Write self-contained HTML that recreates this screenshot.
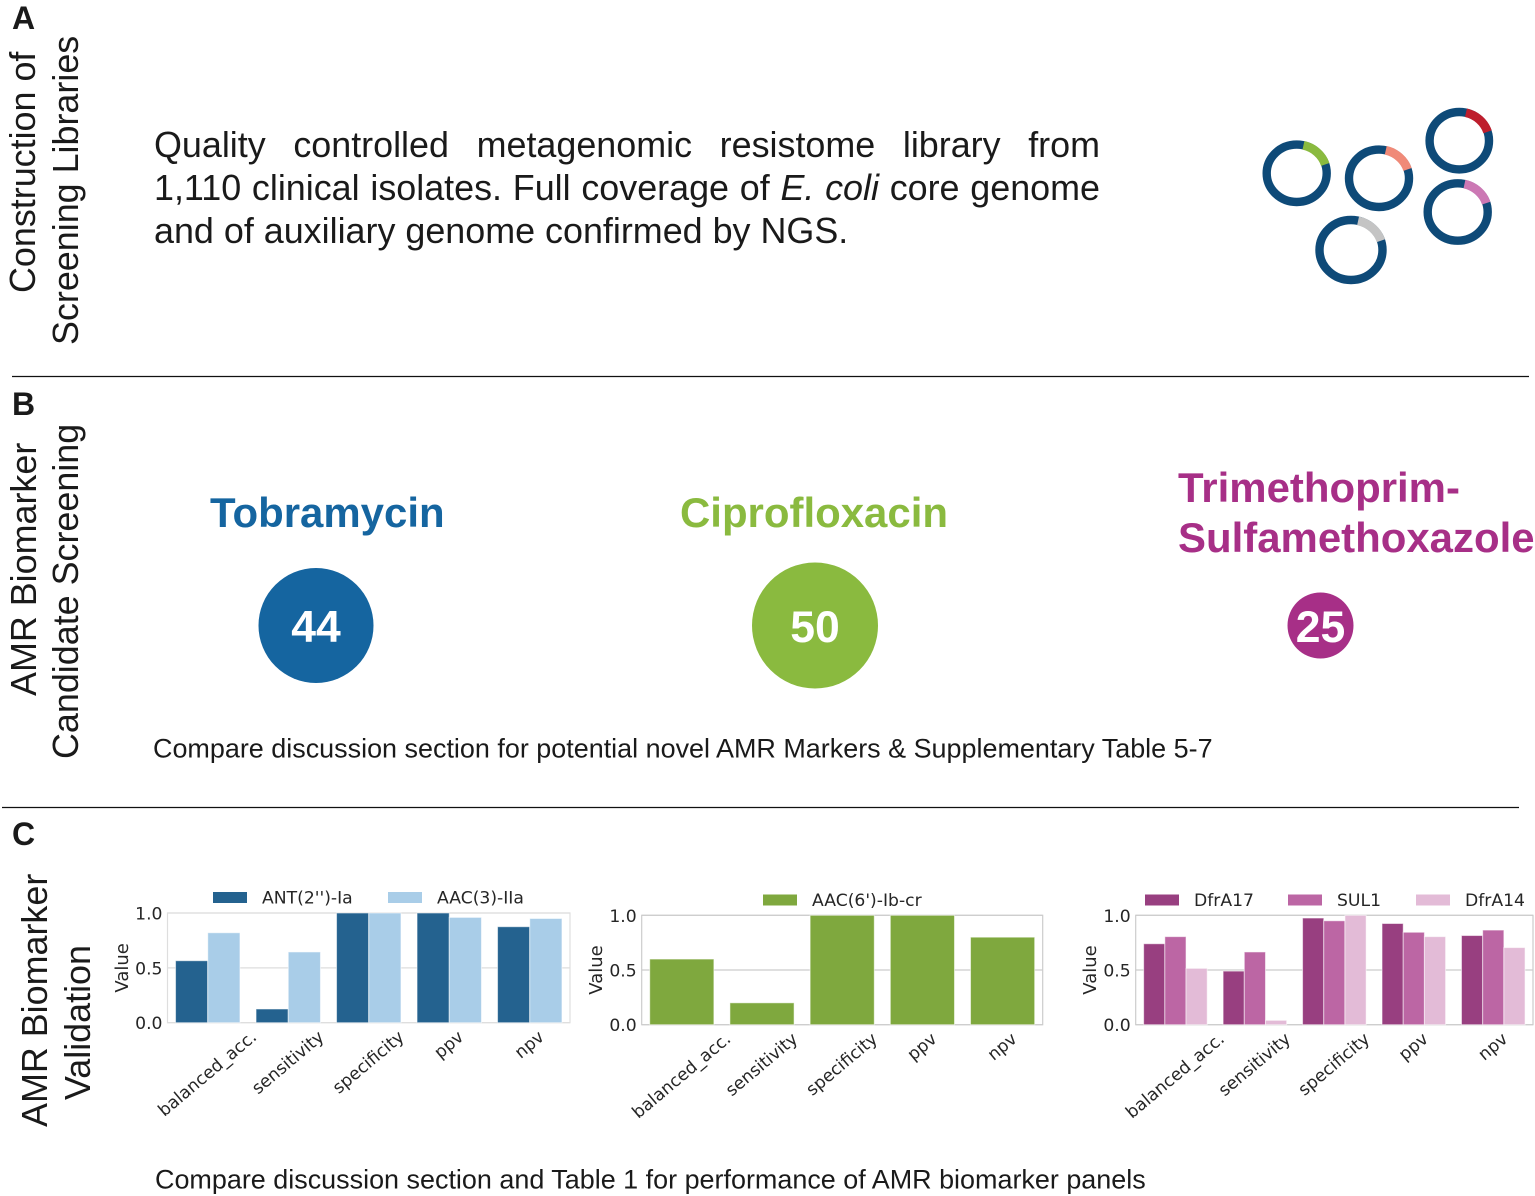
<!DOCTYPE html>
<html lang="en">
<head>
<meta charset="utf-8">
<title>AMR biomarker workflow</title>
<style>
html,body{margin:0;padding:0;background:#fff;}
body{position:relative;width:1535px;height:1196px;overflow:hidden;font-family:"Liberation Sans",Arial,sans-serif;color:#1a1a1a;}
svg{position:absolute;left:0;top:0;}
.line{position:absolute;left:154px;width:946px;font-size:35.9px;line-height:43px;white-space:nowrap;}
.just{white-space:normal;text-align:justify;text-align-last:justify;}
.sans{font-family:"Liberation Sans",Arial,sans-serif;}
.dv{font-family:"DejaVu Sans",sans-serif;fill:#262626;}
</style>
</head>
<body>
<svg id="fig" width="1535" height="1196" viewBox="0 0 1535 1196">
  <line x1="12" y1="376.5" x2="1529" y2="376.5" stroke="#111" stroke-width="1.2"/>
  <line x1="2" y1="807.5" x2="1519" y2="807.5" stroke="#111" stroke-width="1.2"/>

  <g class="sans" font-weight="700" font-size="32" fill="#1a1a1a">
    <text x="12" y="29">A</text>
    <text x="12" y="415">B</text>
    <text x="12" y="845">C</text>
  </g>

  <g class="sans" font-size="35.9" fill="#1a1a1a">
    <text transform="translate(35,293) rotate(-90)">Construction of</text>
    <text transform="translate(78,345) rotate(-90)">Screening Libraries</text>
    <text transform="translate(36,696) rotate(-90)">AMR Biomarker</text>
    <text transform="translate(78,759) rotate(-90)">Candidate Screening</text>
    <text transform="translate(47,1127) rotate(-90)">AMR Biomarker</text>
    <text transform="translate(90,1100) rotate(-90)">Validation</text>
  </g>

  <g class="sans" font-weight="700" font-size="41.95">
    <text x="210" y="527" fill="#1565a0">Tobramycin</text>
    <text x="680" y="527" fill="#8aba3f">Ciprofloxacin</text>
    <text x="1178" y="502" fill="#a72f87">Trimethoprim-</text>
    <text x="1178" y="552" fill="#a72f87">Sulfamethoxazole</text>
  </g>

  <circle cx="316" cy="625.5" r="57.5" fill="#1565a0"/>
  <circle cx="815" cy="625.5" r="63" fill="#8aba3f"/>
  <circle cx="1320.5" cy="625.5" r="33" fill="#a72f87"/>
  <g class="sans" font-weight="700" font-size="44.5" fill="#fff" text-anchor="middle">
    <text x="316" y="642">44</text>
    <text x="815" y="642">50</text>
    <text x="1320.5" y="642">25</text>
  </g>

  <text class="sans" x="153" y="757.5" font-size="26.95" fill="#1a1a1a">Compare discussion section for potential novel AMR Markers &amp; Supplementary Table 5-7</text>
  <text class="sans" x="155" y="1188.5" font-size="26.95" fill="#1a1a1a">Compare discussion section and Table 1 for performance of AMR biomarker panels</text>

  <g id="rings"></g>
  <g id="charts"></g>
</svg>

<div class="line just" style="top:124px">Quality controlled metagenomic resistome library from</div>
<div class="line just" style="top:167px">1,110 clinical isolates. Full coverage of <i>E. coli</i> core genome</div>
<div class="line" style="top:210px">and of auxiliary genome confirmed by NGS.</div>

<script>
var metricLabels = ["balanced_acc.", "sensitivity", "specificity", "ppv", "npv"];
var valueTicks = [0, 0.5, 1];
var valueTickLabels = ["0.0", "0.5", "1.0"];

var ant2Values = [0.565, 0.125, 1, 1, 0.875];
var aac3Values = [0.82, 0.645, 1, 0.96, 0.95];
var aac6Values = [0.6, 0.2, 1, 1, 0.8];
var dfrA17Values = [0.74, 0.49, 0.975, 0.925, 0.815];
var sul1Values = [0.805, 0.665, 0.95, 0.845, 0.865];
var dfrA14Values = [0.515, 0.04, 1, 0.805, 0.705];

var NS = "http://www.w3.org/2000/svg";

function make(parent, tag, attrs) {
  var el = document.createElementNS(NS, tag);
  for (var k in attrs) { el.setAttribute(k, attrs[k]); }
  parent.appendChild(el);
  return el;
}

function drawChart(cfg) {
  var g = make(document.getElementById("charts"), "g", {});
  
  

  var xStep = (cfg.right - cfg.left) / metricLabels.length;
  function xBand(i) { return cfg.left + xStep * i; }
  function yScale(v) { return cfg.bottom - (cfg.bottom - cfg.top) * v; }

  valueTicks.forEach(function (t, i) {
    var grid = make(g, "line", { x1: cfg.left, x2: cfg.right, y1: yScale(t), y2: yScale(t), stroke: cfg.axisColor, "stroke-width": 1.2 });
    
    
    var tick = make(g, "text", { x: cfg.left - 5, y: yScale(t) + 6.5, "text-anchor": "end", "font-size": 17.2, class: "dv" });
    tick.textContent = valueTickLabels[i];
    
    
  });

  var frame = make(g, "rect", { x: cfg.left, y: cfg.top, width: cfg.right - cfg.left, height: cfg.bottom - cfg.top, fill: "none", stroke: cfg.axisColor, "stroke-width": 1.2 });
  
  

  var barWidth = xStep * 0.8 / cfg.series.length;
  cfg.series.forEach(function (s, si) {
    s.values.forEach(function (v, i) {
      var b = make(g, "rect", {
        x: xBand(i) + xStep * 0.1 + barWidth * si,
        y: yScale(v),
        width: barWidth,
        height: yScale(0) - yScale(v),
        fill: s.color,
        stroke: "#fff",
        "stroke-opacity": 0.55,
        "stroke-width": 1
      });
      
      
    });
    var sw = make(g, "rect", { x: s.legendX, y: cfg.legendY - 5.5, width: 34, height: 11, fill: s.color });
    
    
    var lt = make(g, "text", { x: s.legendX + 49, y: cfg.legendY + 6, "font-size": 17.2, class: "dv" });
    lt.textContent = s.name;
    
    
  });

  var yt = make(g, "text", { transform: "translate(" + (cfg.left - 39.5) + "," + ((cfg.top + cfg.bottom) / 2) + ") rotate(-90)", "text-anchor": "middle", "font-size": 18, class: "dv" });
  yt.textContent = "Value";
  
  

  var angle = 40, rad = angle * Math.PI / 180, fs = 17.2;
  metricLabels.forEach(function (label, i) {
    var cx = xBand(i) + xStep / 2;
    var t = make(g, "text", { "text-anchor": "middle", "font-size": fs, "dominant-baseline": "central", class: "dv" });
    t.textContent = label;
    
    
    var w = t.getComputedTextLength();
    var cy = cfg.bottom + 4.5 + (w * Math.sin(rad) + fs * 1.16 * Math.cos(rad)) / 2;
    t.setAttribute("transform", "translate(" + cx + "," + cy + ") rotate(-" + angle + ")");
  });
}

drawChart({
  name: "tobramycin-chart", left: 167.5, right: 570, top: 913, bottom: 1022.7, axisColor: "#dedede", legendY: 897.5,
  series: [
    { name: "ANT(2'')-Ia", values: ant2Values, color: "#24628f", legendX: 213 },
    { name: "AAC(3)-IIa", values: aac3Values, color: "#a9cde8", legendX: 388 }
  ]
});
drawChart({
  name: "ciprofloxacin-chart", left: 641.7, right: 1042.7, top: 915.3, bottom: 1024.7, axisColor: "#cccccc", legendY: 900,
  series: [
    { name: "AAC(6')-Ib-cr", values: aac6Values, color: "#7fa83e", legendX: 763 }
  ]
});
drawChart({
  name: "trimethoprim-chart", left: 1135.7, right: 1533, top: 915.3, bottom: 1024.7, axisColor: "#cccccc", legendY: 900,
  series: [
    { name: "DfrA17", values: dfrA17Values, color: "#983f80", legendX: 1145 },
    { name: "SUL1", values: sul1Values, color: "#bc66a4", legendX: 1288 },
    { name: "DfrA14", values: dfrA14Values, color: "#e3bbd7", legendX: 1416 }
  ]
});

function ringPoint(cx, cy, rx, ry, deg) {
  var a = deg * Math.PI / 180;
  return (cx + rx * Math.sin(a)) + " " + (cy - ry * Math.cos(a));
}

function drawRing(name, cx, cy, rx, ry, color) {
  var g = make(document.getElementById("rings"), "g", {});
  
  
  make(g, "ellipse", { cx: cx, cy: cy, rx: rx, ry: ry, fill: "none", stroke: "#0e4a78", "stroke-width": 8.4 });
  make(g, "path", {
    d: "M" + ringPoint(cx, cy, rx, ry, 13) + " A" + rx + " " + ry + " 0 0 1 " + ringPoint(cx, cy, rx, ry, 72),
    fill: "none", stroke: color, "stroke-width": 8.8
  });
}

drawRing("plasmid-ring-green", 1296.7, 173.3, 30, 28.7, "#8aba3f");
drawRing("plasmid-ring-salmon", 1379, 178.3, 30, 28.7, "#f08a78");
drawRing("plasmid-ring-red", 1459.3, 140.7, 29.7, 28.7, "#be1e2d");
drawRing("plasmid-ring-pink", 1457.7, 212, 30, 28.7, "#cc78b4");
drawRing("plasmid-ring-grey", 1351, 250, 31.5, 30, "#c4c4c4");
</script>
</body>
</html>
